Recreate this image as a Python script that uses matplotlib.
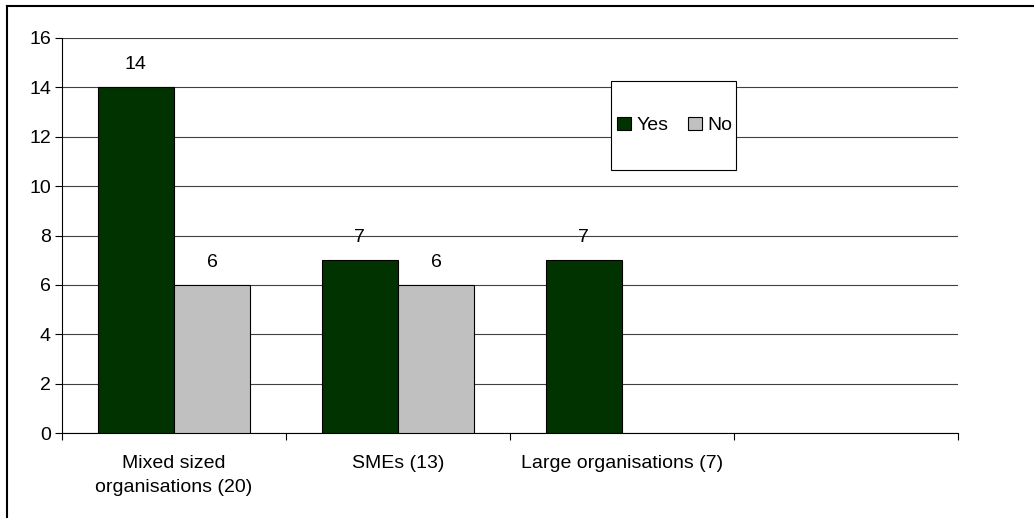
import matplotlib.pyplot as plt
from matplotlib.lines import Line2D
from matplotlib.patches import Rectangle
import numpy as np

plt.rcParams['font.family'] = ['Liberation Sans', 'DejaVu Sans']

categories = ["Mixed sized\norganisations (20)", "SMEs (13)", "Large organisations (7)", ""]
yes_vals = [14, 7, 7, np.nan]
no_vals = [6, 6, np.nan, np.nan]
series_names = ["Yes", "No"]

YES_COLOR = "#003300"
NO_COLOR = "#c0c0c0"
FS = 14

fig = plt.figure(figsize=(10.34, 5.18), dpi=100)
ax = fig.add_axes([62 / 1034, 1 - 433 / 518, 896 / 1034, 395 / 518])

x = np.arange(len(categories))
w = 0.34
b1 = ax.bar(x - w / 2, yes_vals, w, color=YES_COLOR, edgecolor="black", linewidth=0.8, zorder=3)
b2 = ax.bar(x + w / 2, no_vals, w, color=NO_COLOR, edgecolor="black", linewidth=0.8, zorder=3)

for bars, vals in ((b1, yes_vals), (b2, no_vals)):
    for rect, v in zip(bars, vals):
        if np.isnan(v):
            continue
        ax.annotate(f"{v:g}", (rect.get_x() + rect.get_width() / 2, v),
                    xytext=(0, 10), textcoords="offset points",
                    ha="center", va="bottom", fontsize=FS)

ax.set_xlim(-0.5, len(categories) - 0.5)
ax.set_ylim(0, 16)
ax.set_yticks(range(0, 17, 2))
ax.yaxis.grid(True, color="#404040", linewidth=0.8, zorder=0)
ax.tick_params(axis="y", direction="out", length=5, width=0.8, labelsize=FS, pad=3)

# category labels centred, tick marks on the boundaries
ax.set_xticks(x)
ax.set_xticklabels(categories, fontsize=FS, linespacing=1.5)
ax.tick_params(axis="x", which="major", length=0, pad=16)
ax.set_xticks(np.arange(-0.5, len(categories)), minor=True)
ax.tick_params(axis="x", which="minor", direction="out", length=5, width=0.8)

for side in ("top", "right"):
    ax.spines[side].set_visible(False)
for side in ("left", "bottom"):
    ax.spines[side].set_linewidth(0.8)

# legend box
box = Rectangle((611 / 1034, 1 - 170 / 518), 125 / 1034, 89 / 518,
                transform=fig.transFigure, facecolor="white", edgecolor="black",
                linewidth=0.8, zorder=5)
fig.add_artist(box)
handles = [Rectangle((0, 0), 1, 1, facecolor=YES_COLOR, edgecolor="black", linewidth=0.8),
           Rectangle((0, 0), 1, 1, facecolor=NO_COLOR, edgecolor="black", linewidth=0.8)]
leg = fig.legend(handles, series_names, loc="center", ncol=2,
                 bbox_to_anchor=(675 / 1034, 1 - 125.5 / 518), frameon=False,
                 fontsize=FS, handlelength=0.7, handleheight=0.7,
                 handletextpad=0.3, columnspacing=1.0)
leg.set_zorder(6)

# outer frame: left and top edges only
fig.add_artist(Line2D([7 / 1034, 7 / 1034], [0, 1 - 6 / 518], transform=fig.transFigure,
                      color="black", linewidth=1.5))
fig.add_artist(Line2D([7 / 1034, 1], [1 - 6 / 518, 1 - 6 / 518], transform=fig.transFigure,
                      color="black", linewidth=1.5))

fig.savefig("out.png", dpi=100)
